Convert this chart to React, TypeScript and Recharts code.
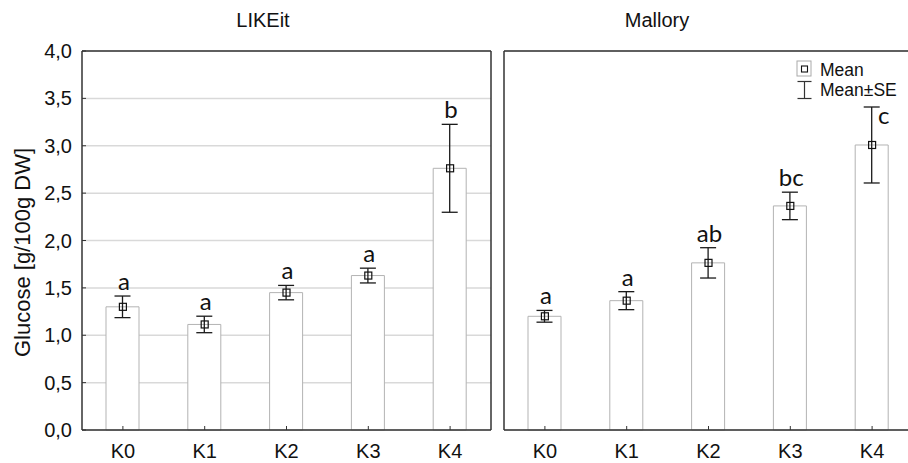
import React from 'react';
import {
  ComposedChart,
  Bar,
  Line,
  XAxis,
  YAxis,
  CartesianGrid,
  ErrorBar,
  LabelList,
  Label,
  Legend,
} from 'recharts';

// Treatment levels on the x axis
const categories = ['K0', 'K1', 'K2', 'K3', 'K4'];

// LIKEit: glucose means, standard errors and homogeneous-group letters
const likeitMean = [1.3, 1.114, 1.45, 1.63, 2.762];
const likeitSE = [0.114, 0.087, 0.076, 0.078, 0.464];
const likeitGroups = ['a', 'a', 'a', 'a', 'b'];

// Mallory: glucose means, standard errors and homogeneous-group letters
const malloryMean = [1.2, 1.365, 1.764, 2.365, 3.008];
const mallorySE = [0.062, 0.095, 0.16, 0.145, 0.401];
const malloryGroups = ['a', 'a', 'ab', 'bc', 'c'];

const yTicks = [0, 0.5, 1, 1.5, 2, 2.5, 3, 3.5, 4];

const SANS = '"Liberation Sans", Arial, Helvetica, sans-serif';
const LETTER_FONT = 'Lato, "Open Sans", sans-serif';
const FRAME = '#333';
const PLOT_W = 409;
const CHART_H = 463;

type Row = { cat: string; mean: number; se: number; top: number; group: string };

const buildRows = (means: number[], ses: number[], groups: string[]): Row[] =>
  categories.map((cat, i) => ({
    cat,
    mean: means[i],
    se: ses[i],
    top: means[i] + ses[i],
    group: groups[i],
  }));

const likeitRows = buildRows(likeitMean, likeitSE, likeitGroups);
const malloryRows = buildRows(malloryMean, mallorySE, malloryGroups);

const fmt = (v: number) => v.toFixed(1).replace('.', ',');

const MeanMarker = (props: any) => {
  const { cx, cy, index } = props;
  if (cx == null || cy == null) return <g key={`mm-${index}`} />;
  return (
    <rect
      key={`mm-${index}`}
      x={cx - 3.5}
      y={cy - 3.5}
      width={7}
      height={7}
      fill="none"
      stroke="#111"
      strokeWidth={1.2}
    />
  );
};

const LegendBox = () => (
  <svg width={120} height={48} style={{ display: 'block', overflow: 'visible' }}>
    <rect x={2} y={4} width={14} height={15} fill="#fff" stroke="#aaa" strokeWidth={1} />
    <rect x={6.5} y={9} width={6} height={6} fill="none" stroke="#111" strokeWidth={1.1} />
    <text x={25} y={19} fontFamily={SANS} fontSize={17.5} fill="#111">
      Mean
    </text>
    <line x1={9.5} y1={24.5} x2={9.5} y2={41.5} stroke="#333" strokeWidth={1.2} />
    <line x1={2.5} y1={24.5} x2={16.5} y2={24.5} stroke="#333" strokeWidth={1.2} />
    <line x1={2.5} y1={41.5} x2={16.5} y2={41.5} stroke="#333" strokeWidth={1.2} />
    <text x={25} y={39} fontFamily={SANS} fontSize={17.5} fill="#111">
      Mean±SE
    </text>
  </svg>
);

type PanelProps = {
  rows: Row[];
  title: string;
  titleShift: number;
  leftAxisWidth: number;
  rightAxisWidth: number;
  showValueAxis: boolean;
  sideLetterIndex?: number;
  withLegend?: boolean;
};

const Panel = ({
  rows,
  title,
  titleShift,
  leftAxisWidth,
  rightAxisWidth,
  showValueAxis,
  sideLetterIndex,
  withLegend,
}: PanelProps) => {
  const width = leftAxisWidth + PLOT_W + rightAxisWidth;

  const renderLetter = (props: any) => {
    const x = props.x ?? props.viewBox?.x;
    const y = props.y ?? props.viewBox?.y;
    const { value, index } = props;
    if (x == null || y == null) return null;
    const side = index === sideLetterIndex;
    return (
      <text
        key={`lt-${index}`}
        x={side ? x + 6 : x + 1}
        y={side ? y + 17 : y - 6}
        textAnchor={side ? 'start' : 'middle'}
        fontFamily={LETTER_FONT}
        fontSize={24}
        fill="#111"
      >
        {value}
      </text>
    );
  };

  return (
    <ComposedChart
      width={width}
      height={CHART_H}
      data={rows}
      margin={{ top: 0, right: 0, bottom: 0, left: 0 }}
    >
      <CartesianGrid horizontal vertical={false} stroke="#d9d9d9" strokeWidth={1.5} />
      <XAxis
        dataKey="cat"
        height={33}
        interval={0}
        tickSize={-4}
        tickMargin={18}
        tickLine={{ stroke: FRAME }}
        axisLine={{ stroke: FRAME, strokeWidth: 1.5 }}
        tick={{ fontSize: 20, fontFamily: SANS, fill: '#111' }}
      />
      <XAxis
        xAxisId="top"
        dataKey="cat"
        orientation="top"
        height={51}
        interval={0}
        tickSize={-4}
        tick={false}
        tickLine={{ stroke: FRAME }}
        axisLine={{ stroke: FRAME, strokeWidth: 1.5 }}
      >
        <Label
          content={(p: any) => (
            <text
              x={p.viewBox.x + p.viewBox.width / 2 + titleShift}
              y={p.viewBox.y + 27}
              textAnchor="middle"
              fontFamily={SANS}
              fontSize={20}
              fill="#111"
            >
              {title}
            </text>
          )}
        />
      </XAxis>
      <YAxis
        domain={[0, 4]}
        ticks={yTicks}
        interval={0}
        width={leftAxisWidth}
        tickSize={-4}
        tickMargin={14}
        tickFormatter={fmt}
        tick={showValueAxis ? { fontSize: 20, fontFamily: SANS, fill: '#111' } : false}
        tickLine={{ stroke: FRAME }}
        axisLine={{ stroke: FRAME, strokeWidth: 1.5 }}
      >
        {showValueAxis && (
          <Label
            content={(p: any) => {
              const cx = 30;
              const cy = p.viewBox.y + p.viewBox.height / 2 + 12;
              return (
                <text
                  x={cx}
                  y={cy}
                  transform={`rotate(-90, ${cx}, ${cy})`}
                  textAnchor="middle"
                  fontFamily={SANS}
                  fontSize={22}
                  fill="#111"
                >
                  Glucose [g/100g DW]
                </text>
              );
            }}
          />
        )}
      </YAxis>
      <YAxis
        yAxisId="right"
        orientation="right"
        domain={[0, 4]}
        ticks={yTicks}
        interval={0}
        width={rightAxisWidth}
        tickSize={-4}
        tick={false}
        tickLine={{ stroke: FRAME }}
        axisLine={{ stroke: FRAME, strokeWidth: 1.5 }}
      />
      <Bar
        dataKey="mean"
        fill="#fff"
        stroke="#b3b3b3"
        strokeWidth={1}
        barSize={33}
        isAnimationActive={false}
      >
        <ErrorBar dataKey="se" direction="y" width={8} stroke="#1a1a1a" strokeWidth={1.3} />
      </Bar>
      <Line
        dataKey="mean"
        stroke="none"
        dot={MeanMarker}
        activeDot={false}
        isAnimationActive={false}
      />
      <Line dataKey="top" stroke="none" dot={false} activeDot={false} isAnimationActive={false}>
        <LabelList dataKey="group" content={renderLetter} />
      </Line>
      {withLegend && (
        <Legend
          layout="horizontal"
          verticalAlign="middle"
          align="center"
          wrapperStyle={{ position: 'absolute', left: 303, top: 57, width: 120, height: 48 }}
          content={() => <LegendBox />}
        />
      )}
    </ComposedChart>
  );
};

export default function App() {
  return (
    <div
      style={{
        position: 'fixed',
        left: 0,
        top: 0,
        width: 908,
        height: CHART_H,
        overflow: 'hidden',
        background: '#fff',
      }}
    >
      <div style={{ position: 'absolute', left: 0, top: 0 }}>
        <Panel
          rows={likeitRows}
          title="LIKEit"
          titleShift={-23.5}
          leftAxisWidth={82}
          rightAxisWidth={9}
          showValueAxis
        />
      </div>
      <div style={{ position: 'absolute', left: 492, top: 0 }}>
        <Panel
          rows={malloryRows}
          title="Mallory"
          titleShift={-51.5}
          leftAxisWidth={12}
          rightAxisWidth={8}
          showValueAxis={false}
          sideLetterIndex={4}
          withLegend
        />
      </div>
    </div>
  );
}
